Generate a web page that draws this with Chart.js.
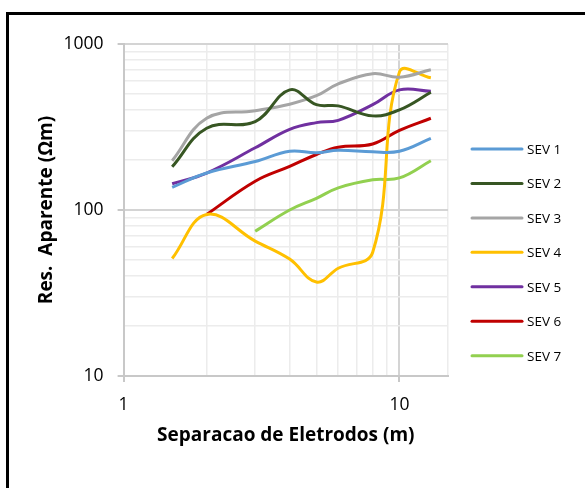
<!DOCTYPE html>
<html lang="pt">
  <head>
    <meta charset="UTF-8" />
    <title>SEV - Resistividade Aparente</title>
    <script src="https://cdn.jsdelivr.net/npm/chart.js"></script>
    <style>
      body {
        margin: 0;
        background: #fff;
        overflow: hidden;
      }
      .wrap {
        position: relative;
        width: 585px;
        height: 488px;
      }
      .frame {
        position: absolute;
        left: 6px;
        top: 12px;
        width: 700px;
        height: 600px;
        border: 3px solid #000;
      }
      canvas {
        position: absolute;
        left: 0;
        top: 0;
      }
    </style>
  </head>
  <body>
    <div class="wrap">
      <div class="frame"></div>
      <canvas id="sevChart" width="585" height="488"></canvas>
    </div>

    <script>
      // Separacao AB/2 (m)
      const separacao = [1.5, 2, 3, 4, 5, 6, 8, 10, 13];

      // Resistividade aparente (Ohm.m) por sondagem
      const sev1 = [137, 167, 196, 226, 221, 229, 224, 226, 270];
      const sev2 = [182, 311, 341, 529, 431, 424, 369, 401, 512];
      const sev3 = [198, 357, 396, 434, 488, 575, 662, 631, 700];
      const sev4 = [51, 94, 65, 50.6, 36.8, 44.6, 55.6, 677, 626];
      const sev5 = [144, 167, 237, 306, 336, 347, 431, 529, 519];
      const sev6 = [null, 94, 149, 183, 216, 239, 250, 302, 357];
      const sev7 = [null, null, 74.5, 100, 117.6, 136, 152, 156, 198];

      const seriesNames = ['SEV 1', 'SEV 2', 'SEV 3', 'SEV 4', 'SEV 5', 'SEV 6', 'SEV 7'];
      const seriesValues = [sev1, sev2, sev3, sev4, sev5, sev6, sev7];
      const seriesColors = ['#5b9bd5', '#375623', '#a5a5a5', '#ffc000', '#7030a0', '#c00000', '#92d050'];

      const yTicks = [10, 100, 1000];
      const xTicks = [1, 10];

      const font = "'Open Sans', 'Liberation Sans', sans-serif";

      function toPoints(values) {
        return values.map((v, i) => ({ x: separacao[i], y: v }));
      }

      const datasets = seriesValues.map((vals, i) => ({
        label: seriesNames[i],
        data: toPoints(vals),
        borderColor: seriesColors[i],
        backgroundColor: seriesColors[i],
        borderWidth: 3,
        pointRadius: 0,
        tension: 0.4,
        fill: false,
      }));

      function isPow10(v) {
        const l = Math.log10(v);
        return Math.abs(l - Math.round(l)) < 1e-9;
      }

      // legenda desenhada à direita, como no Excel
      const sideLegend = {
        id: 'sideLegend',
        afterDraw(chart) {
          const ctx = chart.ctx;
          ctx.save();
          ctx.font = '13.5px ' + font;
          ctx.textBaseline = 'middle';
          ctx.fillStyle = '#000';
          chart.data.datasets.forEach((ds, i) => {
            const y = 149 + i * 34.45;
            ctx.strokeStyle = ds.borderColor;
            ctx.lineWidth = 3;
            ctx.lineCap = 'round';
            ctx.beginPath();
            ctx.moveTo(472, y);
            ctx.lineTo(522, y);
            ctx.stroke();
            ctx.fillText(ds.label, 527, y + 1);
          });
          ctx.restore();
        },
      };

      new Chart(document.getElementById('sevChart'), {
        type: 'line',
        data: { datasets },
        plugins: [sideLegend],
        options: {
          responsive: false,
          animation: false,
          layout: { padding: { left: 35, top: 44, right: 137, bottom: 41 } },
          plugins: {
            legend: { display: false },
            tooltip: { enabled: false },
          },
          scales: {
            x: {
              type: 'logarithmic',
              min: 1,
              max: 15,
              afterFit: (s) => { s.height = 71; },
              afterBuildTicks: (s) => {
                const t = [];
                for (let v = 1; v <= 10; v++) t.push({ value: v });
                t.push({ value: 15 });
                s.ticks = t;
              },
              ticks: {
                autoSkip: false,
                maxRotation: 0,
                padding: 13,
                color: '#000',
                font: { family: font, size: 17.5 },
                callback: (v) => (xTicks.includes(v) ? String(v) : ''),
              },
              grid: {
                color: (c) => (c.tick && isPow10(c.tick.value) ? '#d4d4d4' : '#ececec'),
                lineWidth: (c) => (c.tick && isPow10(c.tick.value) ? 2 : 1.5),
                tickLength: 6,
                tickColor: (c) => (c.tick && isPow10(c.tick.value) ? '#c8c8c8' : 'rgba(0,0,0,0)'),
              },
              border: { color: '#c8c8c8', width: 2 },
              title: {
                display: true,
                text: 'Separacao de Eletrodos (m)',
                color: '#000',
                padding: 0,
                font: { family: font, size: 19, weight: 'bold' },
              },
            },
            y: {
              type: 'logarithmic',
              min: 10,
              max: 1000,
              afterFit: (s) => { s.width = 88.6; },
              afterBuildTicks: (s) => {
                const t = [];
                for (let d = 10; d < 1000; d *= 10) {
                  for (let k = 1; k < 10; k++) t.push({ value: d * k });
                }
                t.push({ value: 1000 });
                s.ticks = t;
              },
              ticks: {
                autoSkip: false,
                padding: 14,
                color: '#000',
                font: { family: font, size: 17.5 },
                callback: (v) => (yTicks.includes(v) ? String(v) : ''),
              },
              grid: {
                color: (c) => (c.tick && isPow10(c.tick.value) ? '#d4d4d4' : '#ececec'),
                lineWidth: (c) => (c.tick && isPow10(c.tick.value) ? 2 : 1.5),
                tickLength: 6,
                tickColor: (c) => (c.tick && isPow10(c.tick.value) ? '#c8c8c8' : 'rgba(0,0,0,0)'),
              },
              border: { color: '#c8c8c8', width: 2 },
              title: {
                display: true,
                text: 'Res.  Aparente (Ωm)',
                color: '#000',
                padding: 0,
                font: { family: font, size: 19, weight: 'bold' },
              },
            },
          },
        },
      });
    </script>
  </body>
</html>
